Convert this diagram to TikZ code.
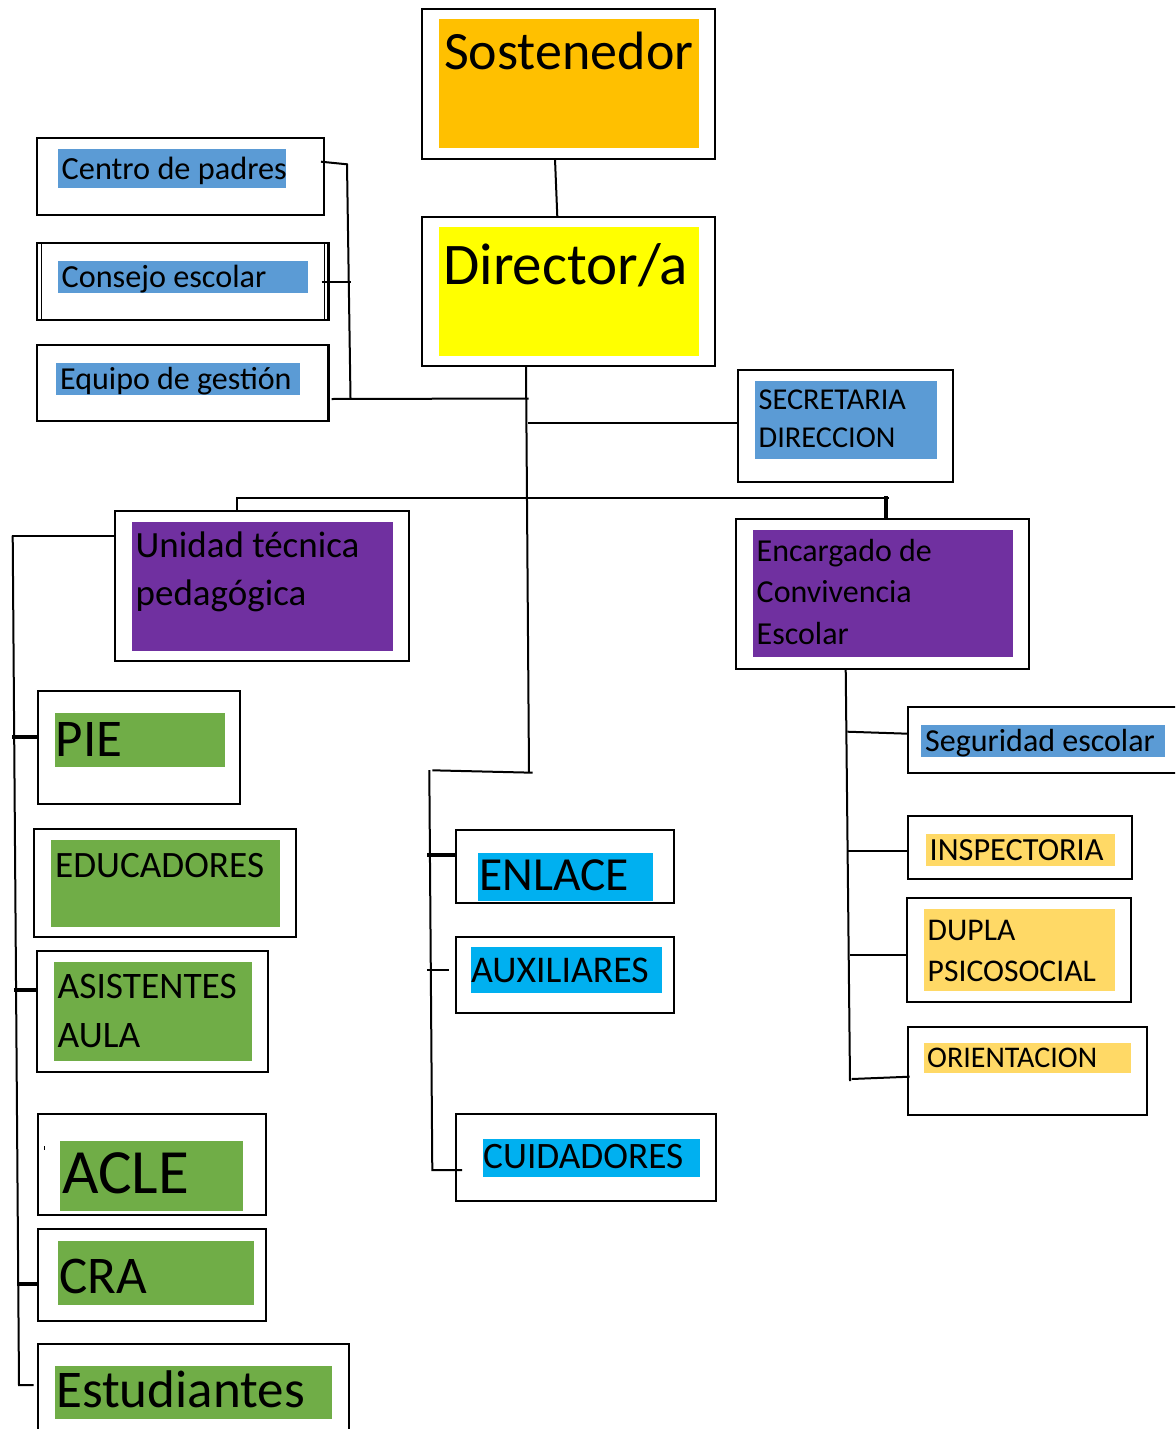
\documentclass[tikz,border=0pt]{standalone}
\usepackage{fontspec}
\setmainfont{Carlito}
\usetikzlibrary{calc}

\definecolor{cOrange}{HTML}{FFC000}
\definecolor{cYellow}{HTML}{FFFF00}
\definecolor{cBlue}{HTML}{5B9BD5}
\definecolor{cPurple}{HTML}{7030A0}
\definecolor{cGreen}{HTML}{70AD47}
\definecolor{cCyan}{HTML}{00B0F0}
\definecolor{cGold}{HTML}{FFD966}

\newcommand\fs[1]{\fontsize{#1}{#1}\selectfont}
% outlined box as a named node: name, x1, y1, x2, y2
\newcommand\orgbox[5]{%
  \node[outer, minimum width={(#4-#2)*1pt}, minimum height={(#5-#3)*1pt}]
    (#1) at ({(#2+#4)/2},{(#3+#5)/2}) {};}
% coloured band behind the label: colour, x1, y1, x2, y2
\newcommand\band[5]{\fill[#1] (#2,#3) rectangle (#4,#5);}

\tikzset{
  outer/.style={draw=black, line width=2.1pt, fill=white, inner sep=0pt, outer sep=0pt},
  lbl/.style={anchor=base west, inner sep=0pt, text=black},
  link/.style={draw=black, line width=2pt},
  heavy/.style={draw=black, line width=4pt},
}

\begin{document}
\begin{tikzpicture}[x=1pt, y=-1pt]
\clip (0,0) rectangle (1175,1429);
\fill[white] (0,0) rectangle (1175,1429);

% ---- boxes ----
\orgbox{sost}{421.7}{9.3}{715}{159}
\orgbox{dir}{421.7}{216.7}{715}{366}
\orgbox{cp}{37}{138}{324}{215}
\orgbox{ce}{37}{243}{328.5}{320}
\draw[line width=1pt] (41,243) -- (41,320) (324.5,243) -- (324.5,320);
\orgbox{eg}{37}{345}{328.5}{420.7}
\orgbox{sec}{737.7}{370}{953.3}{482.3}
\orgbox{utp}{115}{511}{408.7}{660.7}
\orgbox{enc}{736}{519.3}{1029}{668.7}
\orgbox{pie}{38.3}{691}{240}{804.3}
\orgbox{edu}{34}{829.3}{296}{936.7}
\orgbox{asi}{36.7}{951}{268.3}{1071.7}
\orgbox{acle}{37.7}{1114}{265.7}{1215}
\orgbox{cra}{37.7}{1229.3}{265.7}{1321}
\orgbox{est}{37.7}{1344.3}{349}{1445}
\orgbox{enl}{456}{830.3}{674}{903.3}
\orgbox{aux}{456}{936.7}{674}{1012.7}
\orgbox{cui}{456}{1114.3}{715.7}{1201}
\orgbox{seg}{907.7}{707.3}{1190}{773.3}
\orgbox{insp}{907.7}{816}{1131.7}{879}
\orgbox{dup}{907}{898.3}{1131}{1001.7}
\orgbox{ori}{907.7}{1026.7}{1146.7}{1115}

% ---- coloured bands ----
\band{cOrange}{439}{19}{699}{147.7}
\band{cYellow}{439}{226.7}{699}{355.7}
\band{cBlue}{58}{149}{286}{187.7}
\band{cBlue}{58}{261}{307.5}{292.7}
\band{cBlue}{56}{363}{300}{395}
\band{cBlue}{755}{381}{937}{458.7}
\band{cPurple}{132}{522.3}{393}{650.7}
\band{cPurple}{753}{530.3}{1013}{656.7}
\band{cGreen}{55}{713}{225}{766.7}
\band{cGreen}{51}{840}{280}{926.7}
\band{cGreen}{54}{962.3}{251.7}{1060.7}
\band{cGreen}{60}{1141}{243}{1210.7}
\band{cGreen}{58.3}{1241}{254}{1304.7}
\band{cGreen}{55}{1366}{332}{1419.3}
\band{cCyan}{478}{853.3}{652.7}{900.7}
\band{cCyan}{471}{947.3}{662}{992.7}
\band{cCyan}{483}{1139}{700}{1176.7}
\band{cBlue}{921}{725}{1165}{756.7}
\band{cGold}{926}{834}{1115}{865.7}
\band{cGold}{924}{909}{1115}{990.7}
\band{cGold}{924}{1042.7}{1131}{1072.7}
\draw[line width=1pt] (44.3,1146) -- (44.3,1150);

% ---- labels ----
\node[lbl, font=\fs{54}] (sost-t) at (444,70) {Sostenedor};
\node[lbl, font=\fs{59}] (dir-t) at (443,284) {Director/a};
\node[lbl, font=\fs{32.3}] (cp-t) at (61.5,179) {Centro de padres};
\node[lbl, font=\fs{32.2}] (ce-t) at (61.5,287) {Consejo escolar};
\node[lbl, font=\fs{32}] (eg-t) at (60,389) {Equipo de gestión};
\node[lbl, font=\fs{30.3}] (sec-t1) at (758.5,409.3) {SECRETARIA};
\node[lbl, font=\fs{30.3}] (sec-t2) at (758.5,447.3) {DIRECCION};
\node[lbl, font=\fs{37}] (utp-t1) at (135.5,557.3) {Unidad técnica};
\node[lbl, font=\fs{37}] (utp-t2) at (135.5,605) {pedagógica};
\node[lbl, font=\fs{32}] (enc-t1) at (756.5,561) {Encargado de};
\node[lbl, font=\fs{32}] (enc-t2) at (756.5,602.7) {Convivencia};
\node[lbl, font=\fs{32}] (enc-t3) at (756.5,644) {Escolar};
\node[lbl, font=\fs{53}] (pie-t) at (55.5,756) {PIE};
\node[lbl, font=\fs{37.2}] (edu-t) at (55,877.3) {EDUCADORES};
\node[lbl, font=\fs{37.4}] (asi-t1) at (57.5,998.3) {ASISTENTES};
\node[lbl, font=\fs{37.4}] (asi-t2) at (57.5,1047.3) {AULA};
\node[lbl, font=\fs{63}] (acle-t) at (62,1193.3) {ACLE};
\node[lbl, font=\fs{53}] (cra-t) at (59.5,1293.3) {CRA};
\node[lbl, font=\fs{53}] (est-t) at (56,1407.3) {Estudiantes};
\node[lbl, font=\fs{47.5}] (enl-t) at (479,890) {ENLACE};
\node[lbl, font=\fs{37.7}] (aux-t) at (471,982.7) {AUXILIARES};
\node[lbl, font=\fs{37.3}] (cui-t) at (483,1168.7) {CUIDADORES};
\node[lbl, font=\fs{32}] (seg-t) at (925,751) {Seguridad escolar};
\node[lbl, font=\fs{32.3}] (insp-t) at (929.5,860) {INSPECTORIA};
\node[lbl, font=\fs{31.6}] (dup-t1) at (927.5,940) {DUPLA};
\node[lbl, font=\fs{31.6}] (dup-t2) at (927.5,981.7) {PSICOSOCIAL};
\node[lbl, font=\fs{30}] (ori-t) at (927,1067.3) {ORIENTACION};

% ---- junction points ----
\coordinate (trk) at (529,772.7);
\coordinate (barL) at (237.3,497.5);
\coordinate (barR) at (889,497.5);
\coordinate (council) at (350.5,398);

% ---- connectors ----
\draw[link] (sost.south -| 555,0) -- (dir.north -| 557.3,0);
\draw[link] (dir.south -| 526,0) -- (trk);
\draw[link] ($(cp.east |- 0,161.7)+(-3,0)$) -- (347,164.3) -- (council);
\draw[link] ($(ce.east |- 0,281.7)+(-7,0)$) -- (council |- 0,281.7);
\draw[link] ($(eg.east |- 0,399)+(3,0)$) -- (528.6,398.5);
\draw[link] (sec.west |- 0,423.3) -- (527.5,423.3);
\draw[link] (utp.north -| barL) -- (barL) -- (barR);
\draw[heavy] (enc.north -| 886,0) -- (886,496);

% left column
\draw[link] (utp.west |- 0,535.7) -- (11.7,535.7);
\draw[link] (12.7,535.7) -- (19,1385) -- ($(est.west |- 0,1385)+(-4,0)$);
\draw[heavy] (12.3,737.3) -- (pie.west |- 0,737.3);
\draw[heavy] (14,990) -- (asi.west |- 0,990);
\draw[heavy] (17.3,1284) -- (cra.west |- 0,1284);

% middle column
\draw[link] ($(trk)+(3.7,0)$) -- (432.3,770.3);
\draw[link] (429.3,770) -- (432.3,1170) -- ($(cui.west |- 0,1170)+(6,0)$);
\draw[heavy] (427.3,855) -- (enl.west |- 0,855);
\draw[link] (427.3,970.3) -- ($(aux.west |- 0,970.3)+(-7,0)$);

% right column
\draw[link] (enc.south -| 845.7,0) -- (850,1081);
\draw[link] (847.3,731.7) -- (seg.west |- 0,733.7);
\draw[link] (847.3,851.3) -- (insp.west |- 0,851.3);
\draw[link] (850,955) -- (dup.west |- 0,955);
\draw[link] (851.7,1079) -- ($(ori.west |- 0,1076.7)+(2,0)$);
\end{tikzpicture}
\end{document}
